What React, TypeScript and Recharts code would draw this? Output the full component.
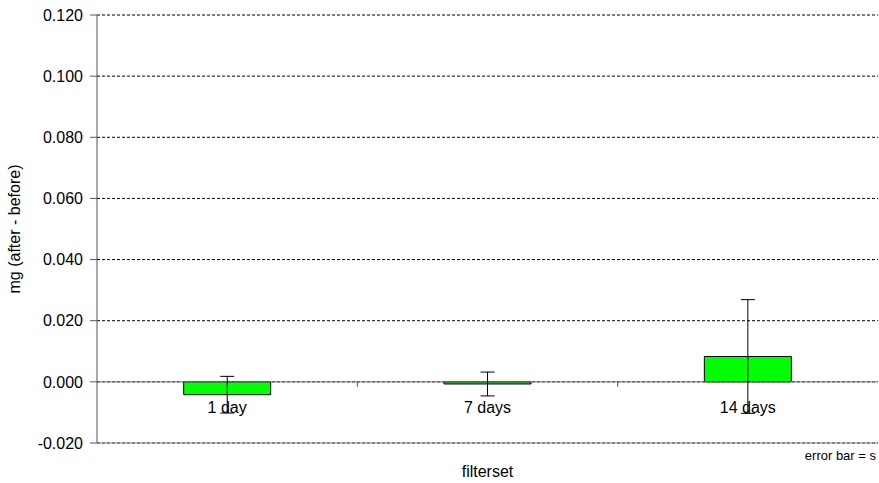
import { BarChart, Bar, XAxis, YAxis, CartesianGrid, ErrorBar, ReferenceLine } from 'recharts';

const categories = ['1 day', '7 days', '14 days'];
const meanValues = [-0.0042, -0.0007, 0.0083];
const sdValues = [0.006, 0.0039, 0.0186];
const yTicks = [-0.02, 0, 0.02, 0.04, 0.06, 0.08, 0.1, 0.12];

const W = 879;
const H = 483;
const PLOT_TOP = 15;
const PLOT_BOTTOM = 443;
const Y_MIN = -0.02;
const Y_MAX = 0.12;
const FONT = '"Liberation Sans", Arial, sans-serif';
const FS = 16;

const data = categories.map((name, i) => ({
  name,
  value: meanValues[i],
  sd: sdValues[i],
}));

// y position of the zero line (labels sit under it, like Excel does)
const zeroY = PLOT_TOP + ((Y_MAX - 0) / (Y_MAX - Y_MIN)) * (PLOT_BOTTOM - PLOT_TOP);
const band = (878 - 97) / categories.length;

const CategoryTick = (props: any) => {
  const { x, payload, index } = props;
  return (
    <g>
      <text
        x={x}
        y={zeroY + 31}
        textAnchor="middle"
        fontSize={FS}
        fontFamily={FONT}
        fill="#000"
      >
        {payload.value}
      </text>
      {index > 0 && (
        <line x1={x - band / 2} x2={x - band / 2} y1={zeroY} y2={zeroY + 5} stroke="#555" />
      )}
    </g>
  );
};

export default function App() {
  return (
    <div style={{ position: 'absolute', left: 0, top: 0, width: W, height: H, background: '#fff' }}>
      <BarChart
        width={W}
        height={H}
        data={data}
        margin={{ top: PLOT_TOP, right: 1, bottom: 0, left: 0 }}
        barCategoryGap="33.3%"
      >
        <CartesianGrid vertical={false} stroke="#000" strokeDasharray="3 2" />
        <XAxis
          dataKey="name"
          height={H - PLOT_BOTTOM}
          axisLine={{ stroke: '#888' }}
          tickLine={false}
          tick={<CategoryTick />}
          interval={0}
          label={{ value: 'filterset', position: 'insideBottom', offset: 6, fontSize: FS, fontFamily: FONT, fill: '#000' }}
        />
        <XAxis xAxisId="top" orientation="top" dataKey="name" height={0} tick={false} tickLine={false} axisLine={{ stroke: '#888' }} />
        <YAxis
          width={97}
          domain={[Y_MIN, Y_MAX]}
          ticks={yTicks}
          interval={0}
          tickFormatter={(v: number) => v.toFixed(3)}
          tick={{ fontSize: FS, fontFamily: FONT, fill: '#000' }}
          tickSize={7}
          tickMargin={7}
          axisLine={{ stroke: '#555' }}
          tickLine={{ stroke: '#555' }}
          label={{ value: 'mg (after - before)', angle: -90, position: 'insideLeft', offset: 14, fontSize: FS, fontFamily: FONT, fill: '#000', style: { textAnchor: 'middle' } }}
        />
        <YAxis yAxisId="right" orientation="right" width={0} tick={false} tickLine={false} axisLine={{ stroke: '#888' }} domain={[Y_MIN, Y_MAX]} />
        <ReferenceLine y={0} stroke="#777" />
        <Bar dataKey="value" fill="#00ff00" stroke="#000" strokeWidth={1} isAnimationActive={false}>
          <ErrorBar dataKey="sd" width={7} stroke="#000" strokeWidth={1} direction="y" />
        </Bar>
      </BarChart>
      <div
        style={{
          position: 'absolute',
          right: 3,
          top: 448,
          fontSize: 13,
          fontFamily: FONT,
          color: '#000',
        }}
      >
        error bar = s
      </div>
    </div>
  );
}
